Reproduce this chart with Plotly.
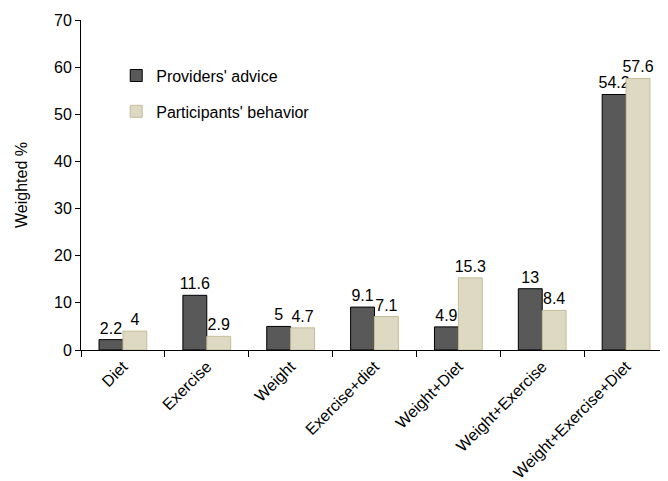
import plotly.graph_objects as go

categories = ["Diet", "Exercise", "Weight", "Exercise+diet", "Weight+Diet",
              "Weight+Exercise", "Weight+Exercise+Diet"]
providers = [2.2, 11.6, 5, 9.1, 4.9, 13, 54.2]
participants = [4, 2.9, 4.7, 7.1, 15.3, 8.4, 57.6]
y_ticks = [0, 10, 20, 30, 40, 50, 60, 70]

font = "Liberation Sans, Arial, sans-serif"

fig = go.Figure()
fig.add_trace(go.Bar(
    x=categories, y=providers, name="Providers' advice",
    marker=dict(color="#595959", line=dict(color="#000000", width=1)),
    text=[str(v) for v in providers], textposition="outside",
    outsidetextfont=dict(size=16, color="black", family=font),
    cliponaxis=False, legendgroup="a"))
fig.add_trace(go.Bar(
    x=categories, y=participants, name="Participants' behavior",
    marker=dict(color="#DDD9C3", line=dict(color="#C4BD97", width=1)),
    text=[str(v) for v in participants], textposition="outside",
    outsidetextfont=dict(size=16, color="black", family=font),
    cliponaxis=False, legendgroup="b"))

fig.update_layout(
    width=660, height=473,
    margin=dict(l=73, r=0, t=12, b=131),
    plot_bgcolor="white", paper_bgcolor="white",
    barmode="group", bargap=0.43, bargroupgap=0,
    font=dict(family=font, size=16, color="black"),
    uniformtext=dict(minsize=16, mode="show"),
    showlegend=True,
    legend=dict(x=0.06, y=0.883, xanchor="left", yanchor="top",
                bgcolor="rgba(0,0,0,0)", font=dict(size=16),
                tracegroupgap=12, itemwidth=30),
    xaxis=dict(showline=True, linecolor="black", linewidth=1,
               ticks="outside", tickson="boundaries", ticklen=6,
               tickcolor="black", tickangle=-45, automargin=False,
               tickfont=dict(size=16), showgrid=False),
    yaxis=dict(range=[0, 70], tickvals=y_ticks, showline=True,
               linecolor="black", linewidth=1, ticks="outside",
               ticklen=5, tickcolor="black", showgrid=False,
               zeroline=False, tickfont=dict(size=16), automargin=False,
               title=dict(text="Weighted %", font=dict(size=16), standoff=22)),
)

fig.write_html("out.html")
